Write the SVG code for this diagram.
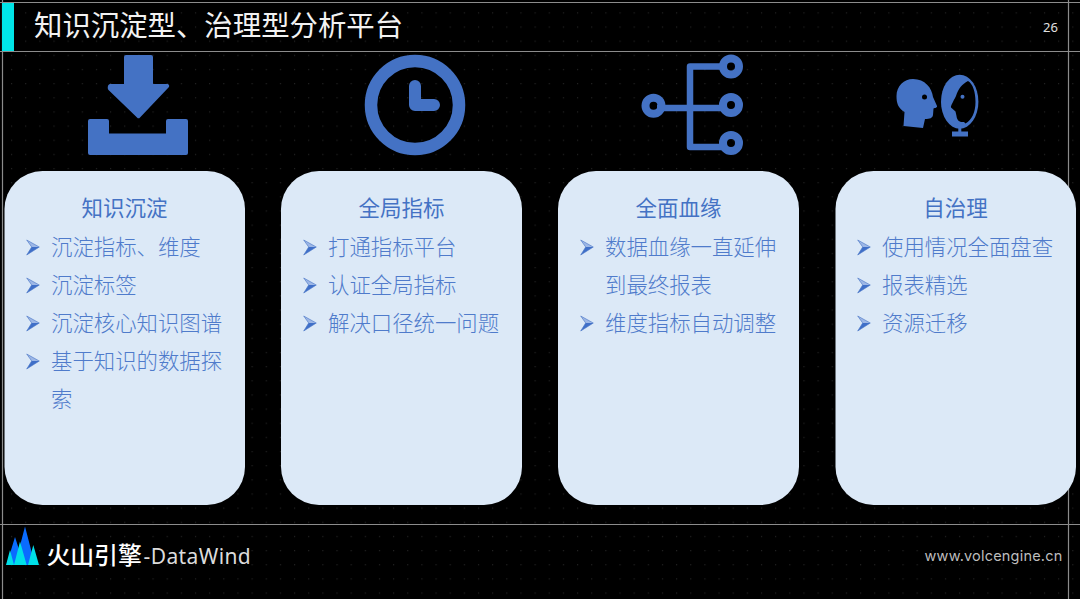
<svg xmlns="http://www.w3.org/2000/svg" xmlns:xlink="http://www.w3.org/1999/xlink" width="1080" height="599" viewBox="0 0 1080 599">
<style>
.cjk{font-family:"Noto Sans CJK SC","Noto Sans",sans-serif}
.card{fill:#dce9f7}
.h{font-size:21.5px;fill:#4472c4;text-anchor:middle;font-family:"Noto Sans CJK SC",sans-serif;font-weight:400}
.b{font-size:21.4px;fill:#4f7bcb;font-family:"Noto Sans CJK SC",sans-serif;font-weight:300}
.rule{stroke:#8c8c8c;stroke-width:1.2;fill:none}
.icon{fill:#4472c4}
.ist{fill:none;stroke:#4472c4}
</style>
<defs>
<pattern id="dots" x="11" y="12.3" width="14.15" height="14.15" patternUnits="userSpaceOnUse"><circle cx="0.6" cy="0.6" r="0.6" fill="#2c2c2c"/></pattern>
<g id="bul"><path d="M0.700 0L13.300 7L5.700 7Z" fill="#9db7e6"/><path d="M5.700 7L13.300 7L0.700 15Z" fill="#3f6fc8"/><path d="M0.700 0L13.300 7L0.700 15L5.700 7Z" fill="none" stroke="#4472c4" stroke-width=".6"/></g>
</defs>
<rect width="1080" height="599" fill="#000"/>
<rect width="1080" height="599" fill="url(#dots)"/>
<g id="frame">
<path class="rule" d="M0 2.500H1080M0 51.500H1080M0 524.500H1080M2.500 0V599M1068.500 0V599"/>
<rect x="2" y="3" width="12" height="48" fill="#00e5e8"/>
</g>
<g id="title"><text x="34" y="35.500" class="cjk" font-size="28.400" fill="#f2f2f2">知识沉淀型、治理型分析平台</text>
<text x="1043" y="32" font-family="Noto Sans,sans-serif" font-size="13" fill="#e0e0e0">26</text></g>

<g id="icon-download" class="icon">
<path d="M124 57a2 2 0 0 1 2-2h25a2 2 0 0 1 2 2V84h14c2 0 3 2 1.500 3.500L140 117.500a2 2 0 0 1-3 0L108.500 90c-1.500-2-.5-6 1.500-6H124Z"/>
<path d="M88 121a2 2 0 0 1 2-2h17a2 2 0 0 1 2 2V133.500H166V121a2 2 0 0 1 2-2h18a2 2 0 0 1 2 2V153a2 2 0 0 1-2 2H90a2 2 0 0 1-2-2Z"/>
</g>
<g id="icon-clock" class="ist" stroke-linecap="round" stroke-linejoin="round">
<circle cx="415" cy="105" r="44" stroke-width="12.500"/>
<path d="M415 86V105H434" stroke-width="12"/>
</g>
<g id="icon-tree" class="ist" stroke-linejoin="round">
<path d="M727 66.500H690V147H727M657 108H727" stroke-width="6.500"/>
<circle cx="731" cy="66.500" r="8" stroke-width="8"/>
<circle cx="731" cy="105" r="8" stroke-width="8"/>
<circle cx="731" cy="143" r="8" stroke-width="8"/>
<circle cx="653.500" cy="105.700" r="8" stroke-width="8"/>
</g>
<g id="icon-mirror">
<path class="icon" d="M913 79C925 79 932 88 933 97L937 106C937.500 107.500 935 108 933.500 108.500L933 115C932.500 118 930 119 925 119L923 128L903.500 126L904.500 112C898 108 896.500 103 896.500 96C896.500 86 904 79 913 79Z"/>
<circle cx="924.500" cy="97" r="2.500" fill="#000"/>
<ellipse class="icon" cx="959.700" cy="101.700" rx="18.700" ry="27"/>
<path fill="#000" d="M968 81C973 84 975.500 92 975.500 102C975.500 112 972 120 965.500 123.500L964 122C960 122.500 957 121 956.500 116L955.500 111.500L951 107.500C950.500 106 953 102 956 96C958 89 962 84 968 81Z"/>
<circle class="icon" cx="962.500" cy="96.700" r="2"/>
<path class="icon" d="M958.300 127H961.300V131.500H968V136.500H952V131.500H958.300Z"/>
</g>

<g id="card-1">
<rect class="card" x="4.500" y="171" width="240.500" height="334" rx="38"/>
<text class="h" x="124.500" y="216">知识沉淀</text>
<use href="#bul" x="26" y="240"/><text class="b" x="51" y="255">沉淀指标、维度</text>
<use href="#bul" x="26" y="278"/><text class="b" x="51" y="293">沉淀标签</text>
<use href="#bul" x="26" y="316"/><text class="b" x="51" y="331">沉淀核心知识图谱</text>
<use href="#bul" x="26" y="354"/><text class="b" x="51" y="369">基于知识的数据探</text>
<text class="b" x="51" y="407">索</text>
</g>
<g id="card-2">
<rect class="card" x="281" y="171" width="241" height="334" rx="38"/>
<text class="h" x="401.500" y="216">全局指标</text>
<use href="#bul" x="303" y="240"/><text class="b" x="328" y="255">打通指标平台</text>
<use href="#bul" x="303" y="278"/><text class="b" x="328" y="293">认证全局指标</text>
<use href="#bul" x="303" y="316"/><text class="b" x="328" y="331">解决口径统一问题</text>
</g>
<g id="card-3">
<rect class="card" x="558" y="171" width="241" height="334" rx="38"/>
<text class="h" x="678.500" y="216">全面血缘</text>
<use href="#bul" x="580" y="240"/><text class="b" x="605" y="255">数据血缘一直延伸</text>
<text class="b" x="605" y="293">到最终报表</text>
<use href="#bul" x="580" y="316"/><text class="b" x="605" y="331">维度指标自动调整</text>
</g>
<g id="card-4">
<rect class="card" x="835.500" y="171" width="240.500" height="334" rx="38"/>
<text class="h" x="955.500" y="216">自治理</text>
<use href="#bul" x="857" y="240"/><text class="b" x="882" y="255">使用情况全面盘查</text>
<use href="#bul" x="857" y="278"/><text class="b" x="882" y="293">报表精选</text>
<use href="#bul" x="857" y="316"/><text class="b" x="882" y="331">资源迁移</text>
</g>

<g id="logo">
<path fill="#0a6cff" d="M25 526.500L35 565H15ZM15 537L24 565H6.500Z"/>
<path fill="#00e0e8" d="M20 541.500L26.700 565H14ZM33.300 545L39 565H28ZM10 550L14 565H6Z"/>
<text x="46.500" y="564" class="cjk" font-size="23.800" font-weight="500" fill="#fff">火山引擎</text>
<text x="143.500" y="564" font-family="Noto Sans,sans-serif" font-size="21" letter-spacing=".4" fill="#dcdcdc">-DataWind</text>
</g>
<g id="url"><text x="924.500" y="561" font-family="Inter,sans-serif" font-size="14.500" letter-spacing=".2" fill="#bdbdbd">www.volcengine.cn</text></g>
</svg>
